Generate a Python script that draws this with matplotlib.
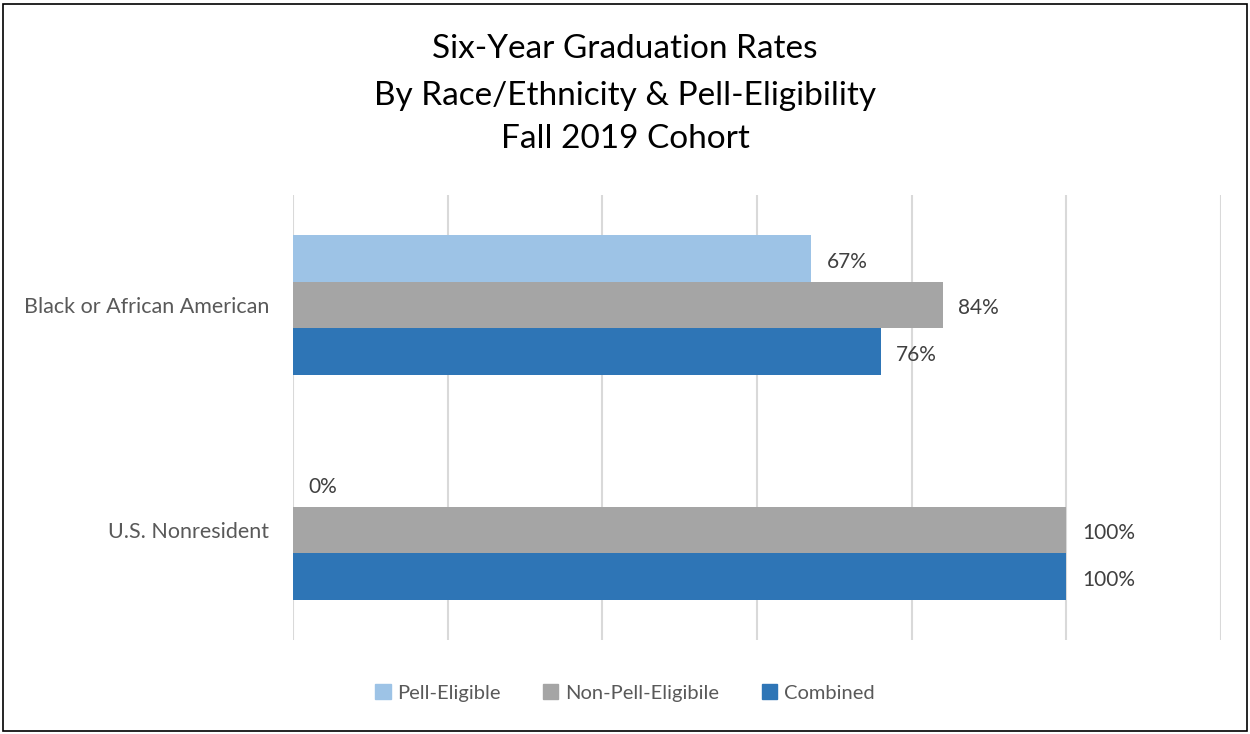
import matplotlib
matplotlib.use('Agg')
import matplotlib.pyplot as plt
import matplotlib.patches as mpatches
import numpy as np

plt.rcParams['font.family'] = ['Lato', 'DejaVu Sans']

# data
categories = ['Black or African American', 'U.S. Nonresident']
series_names = ['Pell-Eligible', 'Non-Pell-Eligibile', 'Combined']
pell = [67, 0]
non_pell = [84, 100]
combined = [76, 100]
colors = ['#9DC3E6', '#A5A5A5', '#2E75B6']

fig = plt.figure(figsize=(12.5, 7.34), dpi=100)
ax = fig.add_axes([293 / 1250, 1 - 640 / 734, (1221 - 293) / 1250, (640 - 195) / 734])

y = np.arange(len(categories))
h = 0.207
for k, (vals, c) in enumerate(zip([pell, non_pell, combined], colors)):
    pos = y + (k - 1) * h
    ax.barh(pos, vals, height=h, color=c, zorder=2, label=series_names[k])
    for p, v in zip(pos, vals):
        ax.text(v + 2.0, p + 0.015, f'{v}%', va='center', ha='left',
                fontsize=15, color='#404040')

ax.set_xlim(0, 120)
ax.set_ylim(1.49, -0.49)
ax.set_xticks(np.arange(0, 121, 20))
ax.set_xticklabels([])
ax.grid(axis='x', color='#D9D9D9', linewidth=1.5, zorder=0)
ax.set_yticks(y)
ax.set_yticklabels(categories, fontsize=15.5, color='#595959')
ax.tick_params(length=0, pad=17)
for s in ax.spines.values():
    s.set_visible(False)

fig.text(0.5, 1 - 49 / 734, 'Six-Year Graduation Rates', ha='center', va='center',
         fontsize=24, color='#000000')
fig.text(0.5, 1 - 96 / 734, 'By Race/Ethnicity & Pell-Eligibility', ha='center',
         va='center', fontsize=24, color='#000000')
fig.text(0.5, 1 - 139 / 734, 'Fall 2019 Cohort', ha='center', va='center',
         fontsize=24, color='#000000')

handles = [mpatches.Patch(color=c, label=n) for c, n in zip(colors, series_names)]
fig.legend(handles=handles, loc='center', bbox_to_anchor=(0.5, 1 - 693 / 734),
           ncol=3, frameon=False, fontsize=14.5, handlelength=0.75, handleheight=0.75,
           handletextpad=0.35, columnspacing=2.1, labelcolor='#595959')

fig.patches.append(mpatches.Rectangle((3 / 1250, 3 / 734), 1244 / 1250, 727 / 734,
                                      transform=fig.transFigure, fill=False,
                                      edgecolor='black', linewidth=1.2))

fig.savefig('out.png', dpi=100)
